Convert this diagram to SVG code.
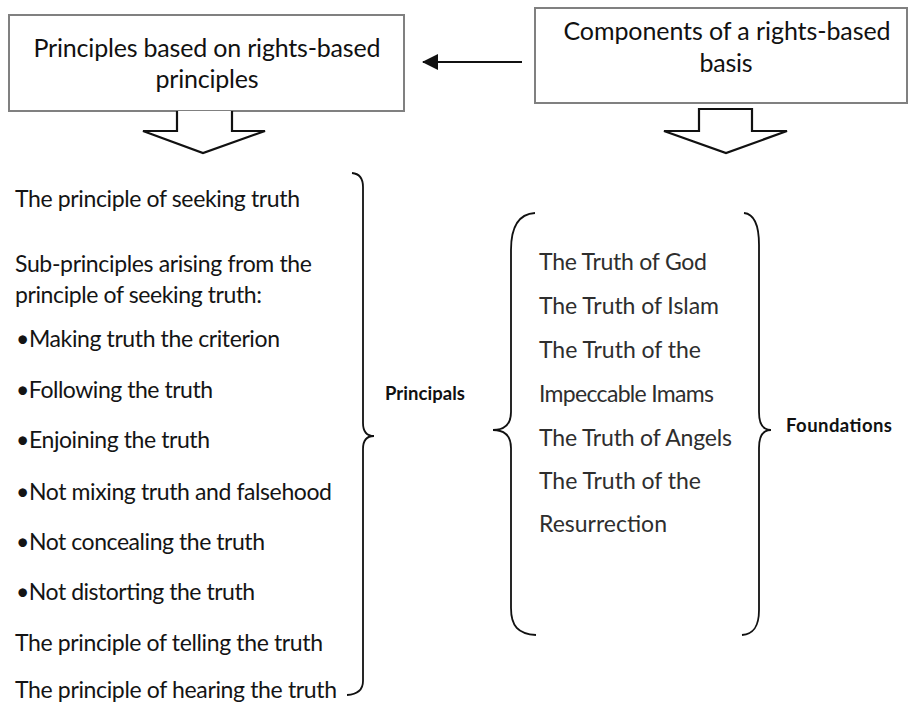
<svg xmlns="http://www.w3.org/2000/svg" width="908" height="704" viewBox="0 0 908 704">
  <defs>
    <marker id="ah" viewBox="0 0 16 16" refX="15" refY="8" markerWidth="16" markerHeight="16" markerUnits="userSpaceOnUse" orient="auto">
      <path d="M0,0 L16,8 L0,16 Z" fill="#111"/>
    </marker>
  </defs>
  <style>
    .box { fill: #ffffff; stroke: #808080; stroke-width: 2; }
    .boxtxt { font-family: Lato, "Open Sans", "Liberation Sans", sans-serif; font-size: 25px; fill: #111; text-anchor: middle; }
    .item { font-family: Lato, "Open Sans", "Liberation Sans", sans-serif; font-size: 23px; fill: #141414; }
    .item2 { font-family: Lato, "Open Sans", "Liberation Sans", sans-serif; font-size: 23px; fill: #2e2e2e; }
    .lbl { font-family: Lato, "Open Sans", "Liberation Sans", sans-serif; font-size: 18.5px; font-weight: bold; fill: #111; }
    .brace { fill: none; stroke: #111; stroke-width: 1.8; }
    .block { fill: #ffffff; stroke: #111; stroke-width: 2.2; stroke-linejoin: miter; }
    .link { stroke: #111; stroke-width: 1.8; fill: none; }
  </style>
  <rect width="908" height="704" fill="#ffffff"/>

  <g id="box-principles">
    <rect class="box" x="9" y="15" width="395" height="96"/>
    <text class="boxtxt" x="207" y="57" textLength="347">Principles based on rights-based</text>
    <text class="boxtxt" x="207" y="88" textLength="103">principles</text>
  </g>

  <g id="box-components">
    <rect class="box" x="535" y="8" width="372" height="95"/>
    <text class="boxtxt" x="727" y="40" textLength="327">Components of a rights-based</text>
    <text class="boxtxt" x="726" y="72" textLength="53">basis</text>
  </g>

  <g id="connectors">
    <line class="link" x1="522" y1="62" x2="423" y2="62" marker-end="url(#ah)"/>
    <polyline class="block" points="177,111 177,131 143,131 203,153 265,131 232,131 232,111"/>
    <polygon class="block" points="699,109 699,131 664,131 726,153 787,131 752,131 752,109"/>
  </g>

  <g id="list-principles">
    <text class="item" x="15" y="207" textLength="285">The principle of seeking truth</text>
    <text class="item" x="15" y="272" textLength="297">Sub-principles arising from the</text>
    <text class="item" x="15" y="303" textLength="247">principle of seeking truth:</text>
    <text class="item" x="16" y="347" textLength="264">•Making truth the criterion</text>
    <text class="item" x="16" y="398" textLength="197">•Following the truth</text>
    <text class="item" x="16" y="448" textLength="194">•Enjoining the truth</text>
    <text class="item" x="16" y="500" textLength="316">•Not mixing truth and falsehood</text>
    <text class="item" x="16" y="550" textLength="249">•Not concealing the truth</text>
    <text class="item" x="16" y="600" textLength="239">•Not distorting the truth</text>
    <text class="item" x="15" y="651" textLength="308">The principle of telling the truth</text>
    <text class="item" x="15" y="698" textLength="322">The principle of hearing the truth</text>
  </g>

  <g id="brace-principals">
    <path class="brace" d="M352,173 Q363,174 363,187 L363,423 Q363,436 374,436 Q363,436 363,449 L363,681 Q363,694 347,695"/>
  </g>

  <g id="label-principals">
    <text class="lbl" x="385" y="400" textLength="80">Principals</text>
  </g>

  <g id="list-foundations">
    <text class="item2" x="539" y="270" textLength="168">The Truth of God</text>
    <text class="item2" x="539" y="314" textLength="180">The Truth of Islam</text>
    <text class="item2" x="539" y="358" textLength="162">The Truth of the</text>
    <text class="item2" x="539" y="402" textLength="175">Impeccable Imams</text>
    <text class="item2" x="539" y="446" textLength="193">The Truth of Angels</text>
    <text class="item2" x="539" y="489" textLength="162">The Truth of the</text>
    <text class="item2" x="539" y="532" textLength="128">Resurrection</text>
  </g>

  <g id="brace-foundations">
    <path class="brace" d="M535,213 C518,214 511,228 511,250 L511,412 C511,424 505,430 493,430 C505,430 511,436 511,448 L511,608 C511,626 518,634 536,635"/>
    <path class="brace" d="M744,213 C754,214 759,224 759,245 L759,412 C759,424 763,430 771,430 C763,430 759,436 759,448 L759,610 C759,626 754,634 742,635"/>
  </g>

  <g id="label-foundations">
    <text class="lbl" x="786" y="432" textLength="106">Foundations</text>
  </g>
</svg>
